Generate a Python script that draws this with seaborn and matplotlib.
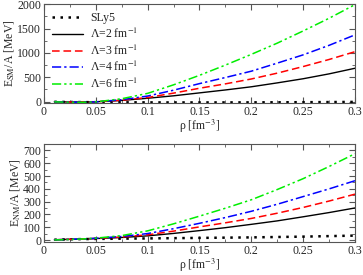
import numpy as np
import pandas as pd
import matplotlib
matplotlib.use('Agg')
import matplotlib.pyplot as plt
import seaborn as sns
from matplotlib.ticker import MultipleLocator

# density grid [fm^-3]
rho = [0.01, 0.02, 0.03, 0.04, 0.05, 0.075, 0.1, 0.125, 0.15, 0.175, 0.2, 0.225, 0.25, 0.275, 0.3]

# symmetric matter E/A [MeV]
sm_sly5 = [-3, -6, -8, -10, -11, -13.5, -15, -16, -16, -15.5, -14.5, -13, -11, -8.5, -5]
sm_l2 = [-2, -5, -6, -5, -2, 25, 70, 120, 180, 240, 305, 385, 470, 570, 685]
sm_l3 = [-2, -6, -8, -7, -3, 30, 85, 175, 275, 365, 465, 585, 720, 865, 1025]
sm_l4 = [-3, -8, -11, -10, -5, 40, 115, 235, 370, 495, 625, 790, 960, 1155, 1370]
sm_l6 = [-4, -10, -14, -12, -5, 60, 170, 345, 540, 750, 970, 1200, 1450, 1710, 1990]

# neutron matter E/A [MeV]
nm_sly5 = [3, 5, 7, 8, 9, 11, 13, 15, 17, 19, 21, 24, 27, 31, 35]
nm_l2 = [2, 5, 7, 9, 12, 20, 33, 52, 74, 97, 123, 150, 182, 215, 251]
nm_l3 = [2, 5, 7, 10, 13, 24, 41, 70, 103, 135, 169, 210, 255, 305, 359]
nm_l4 = [2, 4, 7, 10, 14, 28, 51, 89, 131, 176, 225, 280, 340, 400, 464]
nm_l6 = [1, 3, 6, 10, 15, 35, 72, 127, 187, 249, 315, 395, 480, 575, 675]

labels = ['SLy5', 'Λ=2 fm$^{-1}$', 'Λ=3 fm$^{-1}$', 'Λ=4 fm$^{-1}$', 'Λ=6 fm$^{-1}$']
colors = ['black', 'black', '#ff0000', '#0000ff', '#00ee00']
dashes = [(1, 2.2), '', (5, 2.5), (6, 2, 1.5, 2), (6, 2, 1.5, 2, 1.5, 2)]
widths = [1.8, 1.0, 1.1, 1.1, 1.1]

sns.set_style('ticks')
plt.rcParams['font.family'] = ['Liberation Serif', 'DejaVu Serif']
plt.rcParams['mathtext.fontset'] = 'stix'
plt.rcParams['font.size'] = 8.5


def make_df(series):
    rows = []
    for lab, vals in zip(labels, series):
        for r, v in zip(rho, vals):
            rows.append({'rho': r, 'E': v, 'model': lab})
    return pd.DataFrame(rows)


df_sm = make_df([sm_sly5, sm_l2, sm_l3, sm_l4, sm_l6])
df_nm = make_df([nm_sly5, nm_l2, nm_l3, nm_l4, nm_l6])

fig = plt.figure(figsize=(3.63, 2.75), dpi=100)
ax1 = fig.add_axes([0.121, 0.625, 0.857, 0.36])
ax2 = fig.add_axes([0.121, 0.12, 0.857, 0.356])

for ax, df in [(ax1, df_sm), (ax2, df_nm)]:
    for lab, c, d, w in zip(labels, colors, dashes, widths):
        sub = df[df['model'] == lab]
        sns.lineplot(data=sub, x='rho', y='E', ax=ax, color=c, lw=w, label=lab)
        l = ax.get_lines()[-1]
        if d:
            l.set_dashes(d)
    ax.set_xlim(0, 0.3)
    ax.xaxis.set_minor_locator(MultipleLocator(0.025))
    ax.tick_params(which='both', direction='in', top=True, right=True,
                   labelsize=8.5, pad=2, color='#555555')
    ax.tick_params(which='major', length=4)
    ax.tick_params(which='minor', length=2)
    ax.set_xticks(np.arange(0, 0.31, 0.05))
    ax.set_xticklabels(['0', '0.05', '0.1', '0.15', '0.2', '0.25', '0.3'])
    ax.set_xlabel('ρ [fm$^{-3}$]', fontsize=8.5, labelpad=0)
    for s in ax.spines.values():
        s.set_color('#555555')
        s.set_linewidth(0.8)

ax1.set_ylim(-30, 2000)
ax1.yaxis.set_major_locator(MultipleLocator(500))
ax1.yaxis.set_minor_locator(MultipleLocator(250))
ax1.set_ylabel('E$_{\\mathrm{SM}}$/A [MeV]', fontsize=8.5, labelpad=1)
ax1.legend(loc='upper left', frameon=False, fontsize=8.5, handlelength=2.6,
           labelspacing=0.2, borderaxespad=0.3, handletextpad=0.6)

ax2.set_ylim(-15, 750)
ax2.yaxis.set_major_locator(MultipleLocator(100))
ax2.yaxis.set_minor_locator(MultipleLocator(50))
ax2.set_ylabel('E$_{\\mathrm{NM}}$/A [MeV]', fontsize=8.5, labelpad=1)
leg = ax2.get_legend()
if leg:
    leg.remove()

fig.savefig('out.png', dpi=100)
